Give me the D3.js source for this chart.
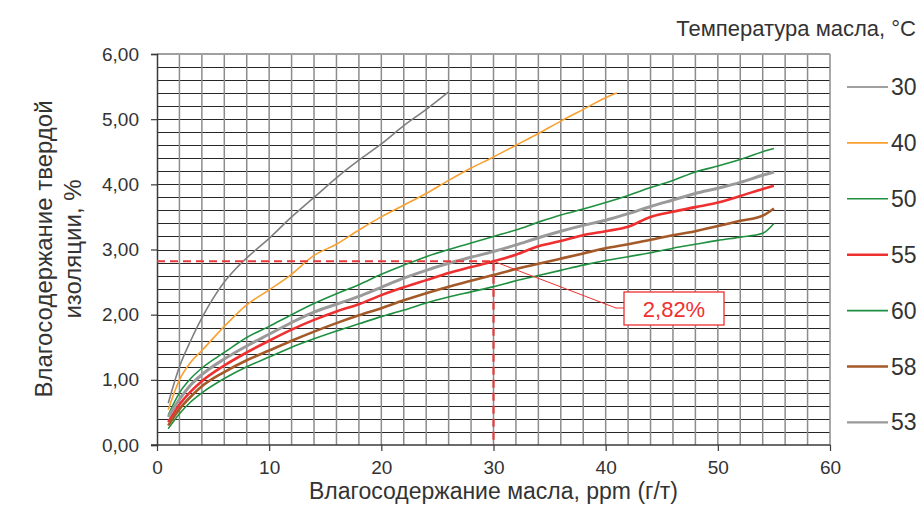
<!DOCTYPE html>
<html>
<head>
<meta charset="utf-8">
<script src="https://cdn.jsdelivr.net/npm/d3@7"></script>
<style>
  body { margin: 0; background: #fff; }
  text { font-family: "Liberation Sans", Arial, sans-serif; fill: #333; }
</style>
</head>
<body>
<script>
var width = 923,
    height = 505;

// data
var x30 = [1, 2, 3, 4, 5, 6, 7, 8, 10, 12, 14, 16, 18, 20, 22, 24, 26];
var y30 = [0.64, 1.2, 1.6, 1.95, 2.25, 2.5, 2.7, 2.87, 3.17, 3.5, 3.8, 4.1, 4.37, 4.62, 4.9, 5.15, 5.42];

var x40 = [1, 2, 3, 4, 6, 8, 10, 12, 14, 16, 18, 20, 22, 24, 26, 28, 30, 32, 34, 36, 38, 40, 41];
var y40 = [0.54, 1.0, 1.27, 1.45, 1.82, 2.15, 2.38, 2.62, 2.91, 3.08, 3.3, 3.5, 3.68, 3.86, 4.06, 4.25, 4.42, 4.6, 4.78, 4.97, 5.15, 5.33, 5.4];

var xLong = [1, 2, 3, 4, 6, 8, 10, 12, 14, 16, 18, 20, 22, 24, 26, 28, 30, 32, 34, 36, 38, 40, 42, 44, 46, 48, 50, 52, 54, 55];
var y50 = [0.46, 0.8, 1.02, 1.18, 1.42, 1.65, 1.82, 2.0, 2.17, 2.32, 2.46, 2.62, 2.76, 2.89, 3.0, 3.1, 3.2, 3.3, 3.42, 3.53, 3.62, 3.72, 3.83, 3.95, 4.06, 4.19, 4.28, 4.38, 4.5, 4.55];
var y55 = [0.35, 0.62, 0.82, 0.98, 1.22, 1.42, 1.6, 1.77, 1.92, 2.05, 2.16, 2.3, 2.42, 2.53, 2.64, 2.73, 2.82, 2.92, 3.05, 3.13, 3.22, 3.28, 3.35, 3.5, 3.58, 3.65, 3.72, 3.82, 3.93, 3.98];
var y60 = [0.25, 0.48, 0.66, 0.8, 1.02, 1.2, 1.35, 1.5, 1.63, 1.75, 1.86, 1.97, 2.07, 2.18, 2.27, 2.35, 2.43, 2.52, 2.6, 2.68, 2.76, 2.83, 2.89, 2.95, 3.02, 3.08, 3.14, 3.19, 3.25, 3.4];
var y58 = [0.3, 0.55, 0.74, 0.9, 1.12, 1.3, 1.45, 1.6, 1.74, 1.87, 1.99, 2.1, 2.22, 2.33, 2.43, 2.52, 2.61, 2.7, 2.78, 2.86, 2.94, 3.02, 3.08, 3.15, 3.22, 3.28, 3.36, 3.44, 3.52, 3.63];
var y53 = [0.43, 0.7, 0.92, 1.08, 1.32, 1.52, 1.7, 1.88, 2.04, 2.16, 2.28, 2.42, 2.56, 2.68, 2.79, 2.88, 2.97, 3.07, 3.18, 3.28, 3.37, 3.45, 3.55, 3.66, 3.76, 3.86, 3.94, 4.03, 4.14, 4.19];

var temps = ["30", "40", "50", "55", "60", "58", "53"];
var xTicks = [0, 10, 20, 30, 40, 50, 60];
var yTicks = [0, 1, 2, 3, 4, 5, 6];
var markX = 30, markY = 2.82;

var series = [
  { name: "30", xs: x30, ys: y30, color: "#7f7f7f", w: 1.6 },
  { name: "40", xs: x40, ys: y40, color: "#f9a030", w: 1.6 },
  { name: "50", xs: xLong, ys: y50, color: "#1f9040", w: 1.6 },
  { name: "55", xs: xLong, ys: y55, color: "#ee3030", w: 2.6 },
  { name: "60", xs: xLong, ys: y60, color: "#1f9040", w: 1.6 },
  { name: "58", xs: xLong, ys: y58, color: "#a35a28", w: 2.6 },
  { name: "53", xs: xLong, ys: y53, color: "#9a9a9a", w: 3 }
];

var margin = { left: 157, right: 93, top: 54, bottom: 60 };
var pw = width - margin.left - margin.right,
    ph = height - margin.top - margin.bottom;

var svg = d3.select("body").append("svg")
    .attr("width", width)
    .attr("height", height);

var x = d3.scaleLinear().domain([0, 60]).range([margin.left, margin.left + pw]);
var y = d3.scaleLinear().domain([0, 6]).range([margin.top + ph, margin.top]);

// grid
var grid = svg.append("g");
grid.selectAll("line.h")
    .data(d3.range(1, 30).map(function(i) { return i * 0.2; }))
    .enter().append("line")
    .attr("x1", x(0)).attr("x2", x(60))
    .attr("y1", function(d) { return Math.round(y(d)) + 0.5; })
    .attr("y2", function(d) { return Math.round(y(d)) + 0.5; })
    .attr("stroke", "#262626").attr("stroke-width", 1);
grid.selectAll("line.v")
    .data(d3.range(1, 31).map(function(i) { return i * 2; }))
    .enter().append("line")
    .attr("y1", y(0)).attr("y2", y(6))
    .attr("x1", function(d) { return x(d); })
    .attr("x2", function(d) { return x(d); })
    .attr("stroke", "#8c8c8c").attr("stroke-width", 1.5);
// top border
svg.append("line")
    .attr("x1", x(0)).attr("x2", x(60))
    .attr("y1", y(6)).attr("y2", y(6))
    .attr("stroke", "#a0a0a0").attr("stroke-width", 2);

// axes
var xAxis = svg.append("g")
    .attr("transform", "translate(0," + y(0) + ")")
    .call(d3.axisBottom(x).tickValues(xTicks).tickSize(6).tickPadding(10)
      .tickFormat(d3.format("d")));
var yAxis = svg.append("g")
    .attr("transform", "translate(" + x(0) + ",0)")
    .call(d3.axisLeft(y).tickValues(yTicks).tickSize(6).tickPadding(12)
      .tickFormat(function(d) { return d.toFixed(2).replace(".", ","); }));
[xAxis, yAxis].forEach(function(a) {
  a.select(".domain").attr("stroke", "#3a3a3a").attr("stroke-width", 1.5);
  a.selectAll(".tick line").attr("stroke", "#3a3a3a").attr("stroke-width", 1.2);
  a.selectAll(".tick text").style("font-family", "Liberation Sans, Arial, sans-serif")
    .style("font-size", "19px").attr("fill", "#333");
});
xAxis.select(".domain").attr("d", "M" + (x(0) - 6) + ",0H" + x(60));

// curves
var line = d3.line()
    .x(function(d) { return x(d[0]); })
    .y(function(d) { return y(d[1]); })
    .curve(d3.curveMonotoneX);

svg.append("g").selectAll("path")
    .data(series)
    .enter().append("path")
    .attr("d", function(s) { return line(d3.zip(s.xs, s.ys)); })
    .attr("fill", "none")
    .attr("stroke", function(s) { return s.color; })
    .attr("stroke-width", function(s) { return s.w; })
    .attr("stroke-linejoin", "round");

// marker lines
svg.append("path")
    .attr("d", "M" + x(0) + "," + y(markY) + "H" + x(markX) + "V" + y(0))
    .attr("fill", "none")
    .attr("stroke", "#e83a3a")
    .attr("stroke-width", 2.2)
    .attr("stroke-dasharray", "8,5");

// callout
var bx = 624, by = 292, bw = 100, bh = 33;
svg.append("path")
    .attr("d", "M" + x(markX) + "," + y(markY) + "L" + (bx - 8) + "," + (by + 16) + "H" + bx)
    .attr("fill", "none").attr("stroke", "#ee3030").attr("stroke-width", 1);
svg.append("rect")
    .attr("x", bx).attr("y", by).attr("width", bw).attr("height", bh)
    .attr("fill", "#fff").attr("stroke", "#ee3030").attr("stroke-width", 1.3);
svg.append("text")
    .attr("x", bx + bw / 2).attr("y", by + bh / 2 + 8)
    .attr("text-anchor", "middle")
    .style("font-size", "22px").style("fill", "#ee3030")
    .text(markY.toFixed(2).replace(".", ",") + "%");

// legend
svg.append("text")
    .attr("x", 916).attr("y", 36)
    .attr("text-anchor", "end")
    .style("font-size", "22px")
    .text("Температура масла, °С");

var legend = svg.append("g").selectAll("g")
    .data(series)
    .enter().append("g")
    .attr("transform", function(d, i) { return "translate(847," + (87 + i * 55.9) + ")"; });
legend.append("line")
    .attr("x1", 0).attr("x2", 41)
    .attr("stroke", function(d) { return d.color; })
    .attr("stroke-width", function(d) { return Math.min(d.w, 2.4); });
legend.append("text")
    .attr("x", 44).attr("y", 8)
    .style("font-size", "23px")
    .text(function(d, i) { return temps[i]; });

// axis titles
svg.append("text")
    .attr("transform", "translate(52,249) rotate(-90)")
    .attr("text-anchor", "middle")
    .style("font-size", "24px")
    .text("Влагосодержание твердой");
svg.append("text")
    .attr("transform", "translate(81,249) rotate(-90)")
    .attr("text-anchor", "middle")
    .style("font-size", "24px")
    .text("изоляции, %");
svg.append("text")
    .attr("x", x(30)).attr("y", 499)
    .attr("text-anchor", "middle")
    .style("font-size", "23px")
    .text("Влагосодержание масла, ppm (г/т)");
</script>
</body>
</html>
